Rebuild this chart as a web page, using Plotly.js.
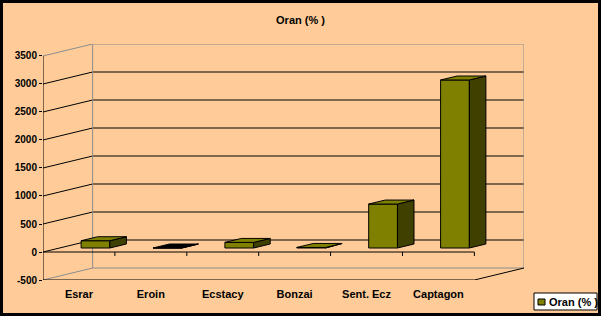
<!DOCTYPE html>
<html>
<head>
<meta charset="utf-8">
<script src="https://cdn.plot.ly/plotly-3.0.1.min.js"></script>
<style>
html,body{margin:0;padding:0;background:#000;}
#wrap{width:601px;height:316px;background:#000;position:relative;overflow:hidden;}
#chart{position:absolute;left:3px;top:3px;width:595px;height:310px;}
</style>
</head>
<body>
<div id="wrap"><div id="chart"></div></div>
<script>
// ---- data ----
const categories = ["Esrar", "Eroin", "Ecstacy", "Bonzai", "Sent. Ecz", "Captagon"];
const values = [130, 0, 100, 10, 785, 3000];
const seriesName = "Oran (% )";
const yTickVals = [-500, 0, 500, 1000, 1500, 2000, 2500, 3000, 3500];
const yTickText = ["-500", "0", "500", "1000", "1500", "2000", "2500", "3000", "3500"];

// ---- style / geometry ----
const FRONT = "#808000", SIDE = "#404000", BG = "#FFCC99", GRAY = "#8c8c8c";
const YMIN = -500, YMAX = 3500;
const DX = 0.69;   // depth offset in category units
const DY = 214;    // depth offset in value units
const BW = 0.40;   // bar width
const n = categories.length;
const xs = categories.map((c, i) => i);
const XL = -0.5, XR = n - 0.5;
const font = "Liberation Sans, Arial, sans-serif";

const traces = [];
// front faces
traces.push({
  type: "bar", x: xs.map(i => i + DX / 3), y: values, base: DY / 3, width: BW,
  marker: {color: FRONT, line: {color: "#000", width: 1}},
  name: seriesName, showlegend: false, hoverinfo: "skip"
});
// side and top faces
values.forEach((v, i) => {
  const xl = i + DX / 3 - BW / 2, xr = i + DX / 3 + BW / 2;
  const b0 = DY / 3, b1 = 2 * DY / 3, d = DX / 3;
  traces.push({
    type: "scatter", mode: "lines", fill: "toself", fillcolor: SIDE,
    x: [xr, xr + d, xr + d, xr, xr], y: [b0, b1, v + b1, v + b0, b0],
    line: {color: "#000", width: 1}, showlegend: false, hoverinfo: "skip"
  });
  traces.push({
    type: "scatter", mode: "lines", fill: "toself", fillcolor: v === 0 ? "#000" : FRONT,
    x: [xl, xr, xr + d, xl + d, xl], y: [v + b0, v + b0, v + b1, v + b1, v + b0],
    line: {color: "#000", width: 1}, showlegend: false, hoverinfo: "skip"
  });
});

const shapes = [];
function line(x0, y0, x1, y1, color) {
  shapes.push({type: "line", xref: "x", yref: "y", x0, y0, x1, y1, layer: "below",
    line: {color, width: 1}});
}
// grid on side + back wall
yTickVals.forEach(v => {
  const edge = (v === YMIN || v === YMAX);
  line(XL, v, XL + DX, v + DY, edge ? GRAY : "#000");
  if (v !== YMIN) line(XL + DX, v + DY, XR + DX, v + DY, edge ? GRAY : "#000");
});
// back wall frame
line(XL + DX, YMIN + DY, XR + DX, YMIN + DY, GRAY);
line(XL + DX, YMIN + DY, XL + DX, YMAX + DY, GRAY);
line(XR + DX, YMIN + DY, XR + DX, YMAX + DY, GRAY);
// front floor edges
line(XL, YMIN, XR, YMIN, "#000");
line(XR, YMIN, XR + DX, YMIN + DY, "#000");
line(XL, 0, XR, 0, "#000");
// value axis line
line(XL, YMIN, XL, YMAX, "#000");
// category ticks
for (let k = 1; k <= n; k++) {
  [YMIN, 0].forEach(v => {
    shapes.push({type: "line", xref: "x", yref: "y", ysizemode: "pixel", yanchor: v,
      x0: XL + k, x1: XL + k, y0: 0, y1: -4, layer: "below", line: {color: "#000", width: 1}});
  });
}
// legend box
shapes.push({type: "rect", xref: "paper", yref: "paper", x0: 1.0208, x1: 1.1518, y0: -0.1271, y1: -0.0551,
  fillcolor: "#fff", line: {color: "#000", width: 1}, layer: "above"});
shapes.push({type: "rect", xref: "paper", yref: "paper", x0: 1.0291, x1: 1.0437, y0: -0.1059, y1: -0.0805,
  fillcolor: FRONT, line: {color: "#000", width: 1}, layer: "above"});

const layout = {
  width: 595, height: 310,
  margin: {l: 40, r: 74, t: 41, b: 33, pad: 0},
  paper_bgcolor: BG, plot_bgcolor: BG,
  showlegend: false,
  title: {text: "<b>" + seriesName + "</b>", font: {family: font, size: 11, color: "#000"},
    x: 0.5, xref: "container", y: 1 - 17 / 310, yref: "container", yanchor: "middle"},
  xaxis: {range: [XL, XR + DX], tickvals: xs, ticktext: categories.map(c => "<b>" + c + "</b>"),
    ticks: "", showgrid: false, zeroline: false, showline: false, fixedrange: true,
    tickfont: {family: font, size: 11, color: "#000"}, ticklabelstandoff: 6},
  yaxis: {range: [YMIN, YMAX + DY], tickvals: yTickVals, ticktext: yTickText.map(t => "<b>" + t + "</b>"),
    ticks: "outside", ticklen: 3, tickcolor: "#000", showgrid: false, zeroline: false, showline: false,
    fixedrange: true, tickfont: {family: font, size: 10, color: "#000"}},
  shapes: shapes,
  annotations: [{xref: "paper", yref: "paper", x: 1.0478, y: -0.0953, xanchor: "left", yanchor: "middle",
    text: "<b>" + seriesName + "</b>", showarrow: false, font: {family: font, size: 11, color: "#000"}}]
};

Plotly.newPlot("chart", traces, layout, {displayModeBar: false, staticPlot: true});
</script>
</body>
</html>
